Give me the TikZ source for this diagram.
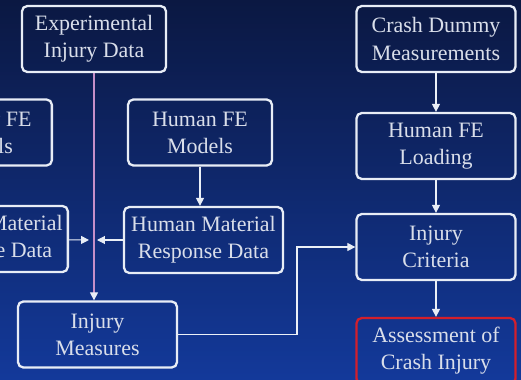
\documentclass[tikz,border=0pt]{standalone}
\usepackage{fontspec}
\setmainfont{Liberation Serif}
\usetikzlibrary{arrows.meta}

\definecolor{bgtop}{HTML}{0B1842}
\definecolor{bgbot}{HTML}{13399A}
\definecolor{boxline}{HTML}{E8EDF6}
\definecolor{boxtext}{HTML}{D9DEEA}
\definecolor{linkpink}{HTML}{C58FC8}
\definecolor{goalred}{HTML}{D21F2C}

\begin{document}
\begin{tikzpicture}[x=0.02cm,y=-0.02cm,>={Triangle[length=4.5pt,width=4.5pt,color=boxline]},
  box node/.style={draw=boxline,line width=1.3pt,rounded corners=3pt,text=boxtext,align=center,
    minimum width=2.88cm,minimum height=1.32cm,inner sep=3pt,font=\fontsize{12.5}{15.4}\selectfont},
  wide node/.style={box node,minimum width=3.18cm},
  goal node/.style={wide node,draw=goalred},
  link/.style={->,draw=boxline!85,line width=0.6pt}]

  \clip (0,0) rectangle (521,379);
  \shade[top color=bgtop,bottom color=bgbot] (0,0) rectangle (521,379);

  \node[box node] (exp) at (94,39) {Experimental\\Injury Data};
  \node[box node,anchor=east] (dfem) at (53,132.5) {Dummy FE\\Models};
  \node[box node] (hfem) at (200,132.5) {Human FE\\Models};
  \node[wide node,anchor=east] (dmat) at (69,239) {Dummy Material\\Response Data};
  \node[wide node] (hmat) at (203.5,240) {Human Material\\Response Data};
  \node[wide node] (meas) at (97.5,334.5) {Injury\\Measures};

  \node[wide node] (crash) at (436,39) {Crash Dummy\\Measurements};
  \node[wide node] (hload) at (436,146) {Human FE\\Loading};
  \node[wide node] (crit) at (436,247) {Injury\\Criteria};
  \node[goal node] (assess) at (436,351) {Assessment of\\Crash Injury};

  \coordinate (jl) at (89,240);
  \coordinate (jr) at (97,240);
  \coordinate (kink) at (297,0);

  \draw[link,draw=linkpink] (exp.south) -- (exp.south |- meas.north);
  \draw[link] (dmat) -- (jl);
  \draw[link] (hmat) -- (jr);
  \draw[link] (hfem.south) -- (hfem.south |- hmat.north);
  \draw[link] (crash) -- (hload);
  \draw[link] (hload) -- (crit);
  \draw[link] (crit) -- (assess);
  \draw[link] (meas.east) -- (meas.east -| kink) |- (crit.west);
\end{tikzpicture}
\end{document}
